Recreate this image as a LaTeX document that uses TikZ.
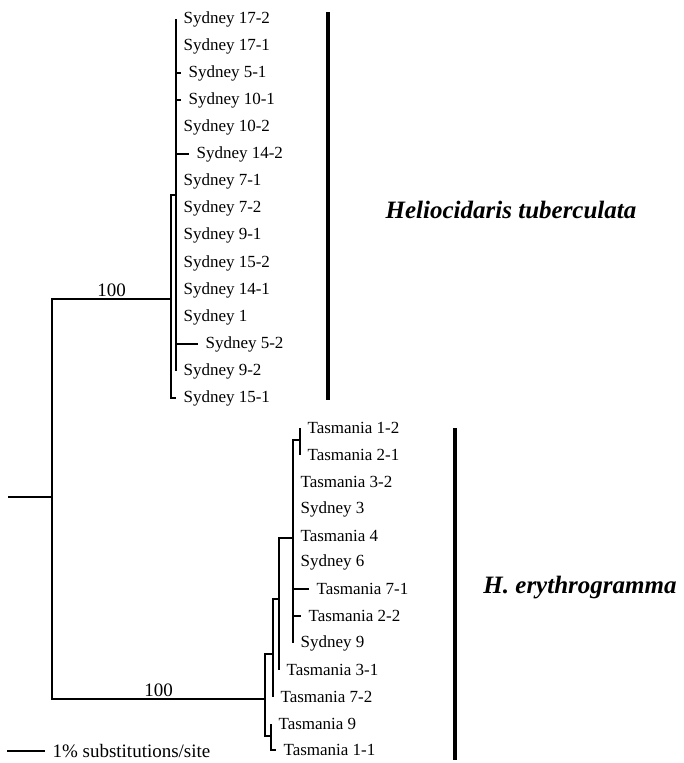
\documentclass[tikz,border=0pt]{standalone}
\usepackage{fontspec}
\setmainfont{Liberation Serif}
\usetikzlibrary{positioning}

\begin{document}
\begin{tikzpicture}[x=1pt, y=-1pt, line width=1.1pt,
    leaf/.style={anchor=west, inner xsep=7pt, inner ysep=0pt, font=\fontsize{17}{20}\selectfont},
    boot/.style={above, inner sep=2pt, font=\fontsize{19}{22}\selectfont},
    cladebar/.style={line width=4pt},
    clade/.style={font=\fontsize{25}{30}\selectfont\bfseries\itshape}]
    \useasboundingbox (0,0) rectangle (683,763);

    % internal nodes
    \coordinate (stub) at (8,497);
    \coordinate (root) at (52,497);
    \coordinate (A) at (171,299);
    \coordinate (B) at (176,195);
    \coordinate (C) at (265,699);
    \coordinate (D) at (273,654);
    \coordinate (E) at (271,736);
    \coordinate (F) at (279,599);
    \coordinate (H) at (293,538);
    \coordinate (G) at (300,440);

    % Sydney clade
    \node[leaf] (s172) at (176,19) {Sydney 17-2};
    \node[leaf] (s171) at (176,46) {Sydney 17-1};
    \node[leaf] (s51) at (181,73) {Sydney 5-1};
    \node[leaf] (s101) at (181,100) {Sydney 10-1};
    \node[leaf] (s102) at (176,127) {Sydney 10-2};
    \node[leaf] (s142) at (189,154) {Sydney 14-2};
    \node[leaf] (s71) at (176,181) {Sydney 7-1};
    \node[leaf] (s72) at (176,208) {Sydney 7-2};
    \node[leaf] (s91) at (176,235) {Sydney 9-1};
    \node[leaf] (s152) at (176,263) {Sydney 15-2};
    \node[leaf] (s141) at (176,290) {Sydney 14-1};
    \node[leaf] (s1) at (176,317) {Sydney 1};
    \node[leaf] (s52) at (198,344) {Sydney 5-2};
    \node[leaf] (s92) at (176,371) {Sydney 9-2};
    \node[leaf] (s151) at (176,398) {Sydney 15-1};

    % Tasmania clade
    \node[leaf] (t12) at (300,428) {Tasmania 1-2};
    \node[leaf] (t21) at (300,455) {Tasmania 2-1};
    \node[leaf] (t32) at (293,482) {Tasmania 3-2};
    \node[leaf] (s3) at (293,509) {Sydney 3};
    \node[leaf] (t4) at (293,536) {Tasmania 4};
    \node[leaf] (s6) at (293,562) {Sydney 6};
    \node[leaf] (t71) at (309,589) {Tasmania 7-1};
    \node[leaf] (t22) at (301,616) {Tasmania 2-2};
    \node[leaf] (s9) at (293,643) {Sydney 9};
    \node[leaf] (t31) at (279,670) {Tasmania 3-1};
    \node[leaf] (t72) at (273,697) {Tasmania 7-2};
    \node[leaf] (t9) at (271,724) {Tasmania 9};
    \node[leaf] (t11) at (276,750) {Tasmania 1-1};

    % branches
    \draw (stub) -- (root);
    \draw (root) |- node[boot, pos=0.75] {100} (A);
    \draw (root) |- node[boot, pos=0.75] {100} (C);
    \draw (A) |- (B);
    \draw (A) |- (s151.west);
    \foreach \n in {s172,s171,s51,s101,s102,s142,s71,s72,s91,s152,s141,s1,s52,s92}
        \draw (B) |- (\n.west);
    \draw (C) |- (D);
    \draw (C) |- (E);
    \draw (D) |- (F);
    \draw (D) |- (t72.west);
    \draw (F) |- (H);
    \draw (F) |- (t31.west);
    \draw (H) |- (G);
    \foreach \n in {t32,s3,t4,s6,t71,t22,s9}
        \draw (H) |- (\n.west);
    \draw (G) |- (t12.west);
    \draw (G) |- (t21.west);
    \draw (E) |- (t9.west);
    \draw (E) |- (t11.west);

    % clade bars
    \draw[cladebar] (328,12) -- (328,400);
    \draw[cladebar] (455,428) -- (455,760);
    \node[clade] (helio) at (511,210) {Heliocidaris tuberculata};
    \node[clade] (ery) at (580,588) {H. erythrogramma};

    % scale
    \coordinate (sc) at (7,751);
    \node[leaf, font=\fontsize{19}{22}\selectfont] (scale) at (45,751) {1\% substitutions/site};
    \draw (sc) -- (scale.west);
\end{tikzpicture}
\end{document}
